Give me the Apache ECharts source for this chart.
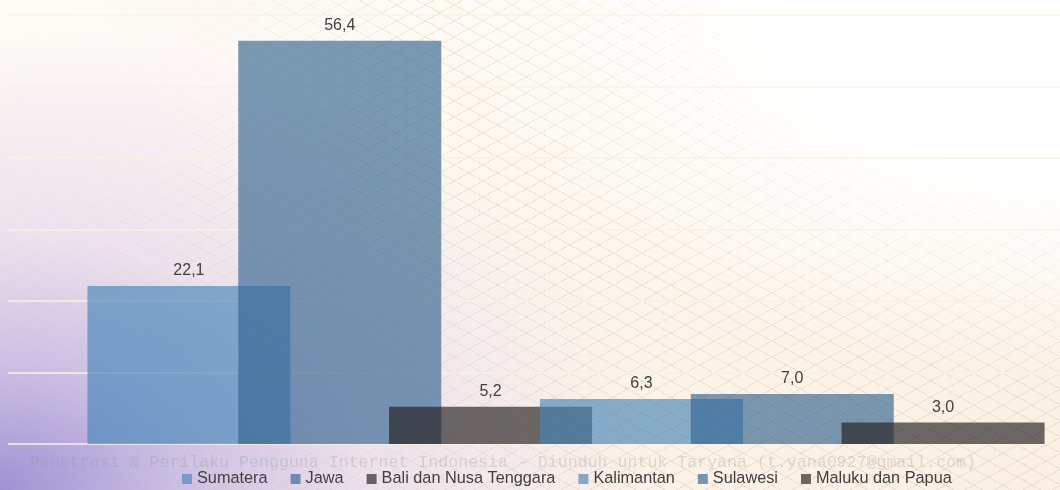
<!DOCTYPE html>
<html>
<head>
<meta charset="utf-8">
<title>Penetrasi per Pulau</title>
<script src="https://cdn.jsdelivr.net/npm/echarts@6/dist/echarts.min.js"></script>
<style>
  html, body {
    margin: 0;
    padding: 0;
  }
  /* latar: ungu kiri bawah, putih kanan atas, pola belah ketupat di tengah */
  .wrap {
    position: relative;
    width: 1060px;
    height: 490px;
    overflow: hidden;
    background:
      radial-gradient(ellipse 660px 460px at 0% 100%, rgba(160, 145, 210, 1) 0%, rgba(195, 182, 226, 0.9) 25%, rgba(230, 216, 235, 0.7) 55%, rgba(245, 236, 240, 0) 100%),
      radial-gradient(ellipse 620px 380px at 100% 0%, rgba(255, 255, 255, 1) 0%, rgba(255, 255, 255, 1) 45%, rgba(255, 255, 255, 0) 100%),
      radial-gradient(ellipse 440px 320px at 0% 0%, rgba(255, 252, 246, 1) 0%, rgba(253, 248, 244, 0.95) 45%, rgba(253, 248, 244, 0) 100%),
      repeating-linear-gradient(29deg, rgba(205, 185, 150, 0.3) 0 1px, transparent 1px 14px),
      repeating-linear-gradient(151deg, rgba(205, 185, 150, 0.3) 0 1px, transparent 1px 14px),
      linear-gradient(160deg, #fffdf8 0%, #fdf7ee 50%, #fbefe3 100%);
  }
  #chart {
    position: absolute;
    left: 0;
    top: 0;
    width: 1124px;
    height: 490px;
  }
</style>
</head>
<body>
<div class="wrap">
  <div id="chart"></div>
</div>
<script>
// data per pulau (%)
const regions = ['Sumatera', 'Jawa', 'Bali dan Nusa Tenggara', 'Kalimantan', 'Sulawesi', 'Maluku dan Papua']
const values = [22.1, 56.4, 5.2, 6.3, 7.0, 3.0]
const colors = [
  'rgba(71, 134, 185, 0.65)',
  'rgba(51, 100, 145, 0.65)',
  'rgba(33, 29, 29, 0.65)',
  'rgba(71, 134, 185, 0.65)',
  'rgba(51, 100, 145, 0.65)',
  'rgba(33, 29, 29, 0.65)'
]
const watermark = 'Penetrasi & Perilaku Pengguna Internet Indonesia - Diunduh untuk Taryana (t.yana0927@gmail.com)'

const chart = echarts.init(document.getElementById('chart'), null, { renderer: 'canvas' })

const series = regions.map((name, i) => ({
  name: name,
  type: 'bar',
  data: [values[i]],
  barWidth: 203,
  barGap: '-25.7%',
  itemStyle: {
    color: colors[i]
  },
  label: {
    show: true,
    position: 'top',
    distance: 7,
    color: '#404040',
    fontSize: 16,
    fontFamily: 'Liberation Sans, Arial, sans-serif',
    formatter: p => p.value.toFixed(1).replace('.', ',')
  }
}))

const option = {
  animation: false,
  backgroundColor: 'transparent',
  // chart div lebih lebar dari bingkai supaya grup batang bergeser ke kanan
  grid: {
    left: 8,
    right: 0,
    top: 15,
    bottom: 46
  },
  legend: {
    data: regions,
    left: 182,
    top: 471,
    padding: 0,
    itemGap: 23,
    itemWidth: 10,
    itemHeight: 10,
    icon: 'rect',
    textStyle: {
      color: '#404040',
      fontSize: 16.3,
      fontFamily: 'Liberation Sans, Arial, sans-serif'
    }
  },
  graphic: [
    {
      type: 'text',
      left: 30,
      top: 454,
      z: 0,
      style: {
        text: watermark,
        font: '16.6px "Liberation Mono", "Courier New", monospace',
        fill: 'rgba(150, 150, 150, 0.3)'
      }
    }
  ],
  xAxis: {
    type: 'category',
    data: [''],
    axisLine: { show: false },
    axisTick: { show: false },
    axisLabel: { show: false }
  },
  yAxis: {
    type: 'value',
    min: 0,
    max: 60,
    interval: 10,
    axisLine: { show: false },
    axisTick: { show: false },
    axisLabel: { show: false },
    splitLine: {
      lineStyle: {
        color: 'rgba(250, 242, 226, 1)',
        width: 1.5
      }
    }
  },
  series: series
}

chart.setOption(option)
</script>
</body>
</html>
